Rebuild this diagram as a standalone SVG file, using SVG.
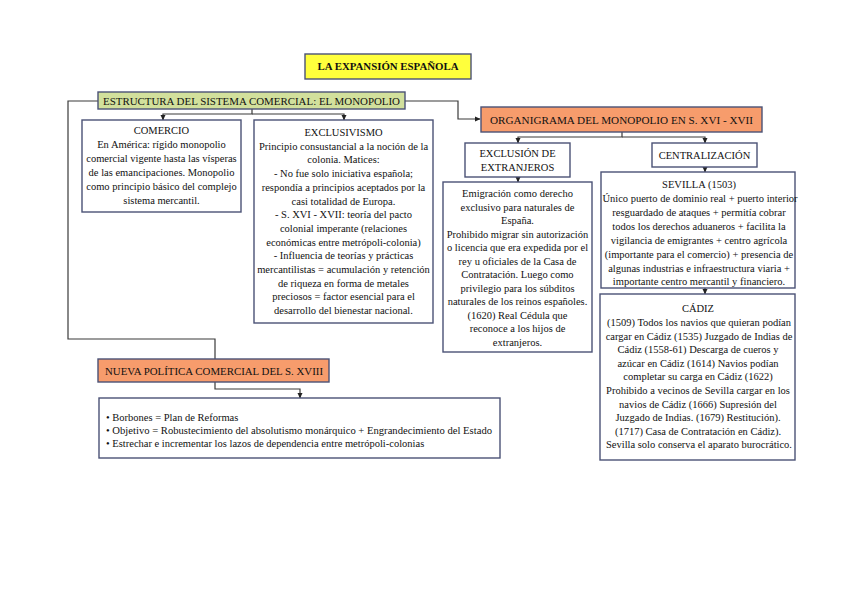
<svg xmlns="http://www.w3.org/2000/svg" width="848" height="599" viewBox="0 0 848 599">
<style>
text{font-family:"Liberation Serif","Times New Roman",serif;font-size:10.5px;fill:#111}
.c{text-anchor:middle}
.box{fill:#fff;stroke:#4a5276;stroke-width:1.4}
.yel{fill:#ffff3c;stroke:#4a5276;stroke-width:1.4}
.grn{fill:#d2e09c;stroke:#4a5276;stroke-width:1.4}
.sal{fill:#f79c6c;stroke:#4a5276;stroke-width:1.4}
.ln{fill:none;stroke:#3a3a3a;stroke-width:1.2}
.b{font-weight:bold}
</style>
<defs>
<marker id="ar" markerWidth="6" markerHeight="6" refX="5" refY="3" orient="auto" markerUnits="userSpaceOnUse">
<path d="M0,0.5 L5.5,3 L0,5.5 Z" fill="#222"/>
</marker>
</defs>
<rect width="848" height="599" fill="#fff"/>

<g id="connectors">
<path class="ln" d="M98,101 H68 V339 H215 V359"/>
<path class="ln" d="M405,101 H458 V119 H480" marker-end="url(#ar)"/>
<path class="ln" d="M252,109 V114 H163 V120" marker-end="url(#ar)"/>
<path class="ln" d="M252,114 H344 V120" marker-end="url(#ar)"/>
<path class="ln" d="M622,132 V137 H518 V143" marker-end="url(#ar)"/>
<path class="ln" d="M622,137 H705 V143" marker-end="url(#ar)"/>
<path class="ln" d="M518,177 V182" marker-end="url(#ar)"/>
<path class="ln" d="M705,167 V172" marker-end="url(#ar)"/>
<path class="ln" d="M705,288 V294" marker-end="url(#ar)"/>
<path class="ln" d="M215,382 V389 H300 V398" marker-end="url(#ar)"/>
</g>

<g id="titulo">
<rect class="yel" x="305" y="54" width="166" height="25"/>
<text class="c b" x="388" y="70" textLength="141" lengthAdjust="spacingAndGlyphs">LA EXPANSIÓN ESPAÑOLA</text>
</g>

<g id="estructura">
<rect class="grn" x="98" y="92" width="307" height="17"/>
<text class="c" x="251.5" y="104.5" textLength="297" lengthAdjust="spacingAndGlyphs">ESTRUCTURA DEL SISTEMA COMERCIAL: EL MONOPOLIO</text>
</g>

<g id="comercio">
<rect class="box" x="82" y="120" width="159" height="92"/>
<text class="c" x="161.5" y="134">COMERCIO</text>
<text class="c" x="161.5" y="148">En América: rígido monopolio</text>
<text class="c" x="161.5" y="162">comercial vigente hasta las vísperas</text>
<text class="c" x="161.5" y="176">de las emancipaciones. Monopolio</text>
<text class="c" x="161.5" y="190">como principio básico del complejo</text>
<text class="c" x="161.5" y="204">sistema mercantil.</text>
</g>

<g id="exclusivismo">
<rect class="box" x="254" y="120" width="179" height="203"/>
<text class="c" x="343.5" y="136">EXCLUSIVISMO</text>
<text class="c" x="343.5" y="149.7">Principio consustancial a la noción de la</text>
<text class="c" x="343.5" y="163.4">colonia. Matices:</text>
<text class="c" x="343.5" y="177.1">- No fue solo iniciativa española;</text>
<text class="c" x="343.5" y="190.8">respondía a principios aceptados por la</text>
<text class="c" x="343.5" y="204.5">casi totalidad de Europa.</text>
<text class="c" x="343.5" y="218.2">- S. XVI - XVII: teoría del pacto</text>
<text class="c" x="343.5" y="231.9">colonial imperante (relaciones</text>
<text class="c" x="343.5" y="245.6">económicas entre metrópoli-colonia)</text>
<text class="c" x="343.5" y="259.3">- Influencia de teorías y prácticas</text>
<text class="c" x="343.5" y="273">mercantilistas = acumulación y retención</text>
<text class="c" x="343.5" y="286.7">de riqueza en forma de metales</text>
<text class="c" x="343.5" y="300.4">preciosos = factor esencial para el</text>
<text class="c" x="343.5" y="314.1">desarrollo del bienestar nacional.</text>
</g>

<g id="organigrama">
<rect class="sal" x="481" y="107" width="281" height="25"/>
<text class="c" x="621.5" y="123.5" textLength="263" lengthAdjust="spacingAndGlyphs">ORGANIGRAMA DEL MONOPOLIO EN S. XVI - XVII</text>
</g>

<g id="exclusion">
<rect class="box" x="465" y="143" width="105" height="34"/>
<text class="c" x="517.5" y="157">EXCLUSIÓN DE</text>
<text class="c" x="517.5" y="171">EXTRANJEROS</text>
</g>

<g id="centralizacion">
<rect class="box" x="652" y="143" width="105" height="24"/>
<text class="c" x="704.5" y="158.5">CENTRALIZACIÓN</text>
</g>

<g id="emigracion">
<rect class="box" x="443" y="182" width="149" height="170"/>
<text class="c" x="517.5" y="197">Emigración como derecho</text>
<text class="c" x="517.5" y="210.5">exclusivo para naturales de</text>
<text class="c" x="517.5" y="224">España.</text>
<text class="c" x="517.5" y="237.5">Prohibido migrar sin autorización</text>
<text class="c" x="517.5" y="251">o licencia que era expedida por el</text>
<text class="c" x="517.5" y="264.5">rey u oficiales de la Casa de</text>
<text class="c" x="517.5" y="278">Contratación. Luego como</text>
<text class="c" x="517.5" y="291.5">privilegio para los súbditos</text>
<text class="c" x="517.5" y="305">naturales de los reinos españoles.</text>
<text class="c" x="517.5" y="318.5">(1620) Real Cédula que</text>
<text class="c" x="517.5" y="332">reconoce a los hijos de</text>
<text class="c" x="517.5" y="345.5">extranjeros.</text>
</g>

<g id="sevilla">
<rect class="box" x="601" y="172" width="194" height="116"/>
<text class="c" x="699" y="188">SEVILLA (1503)</text>
<text class="c" x="700" y="202">Único puerto de dominio real + puerto interior</text>
<text class="c" x="699" y="216">resguardado de ataques + permitía cobrar</text>
<text class="c" x="699" y="229.5">todos los derechos aduaneros + facilita la</text>
<text class="c" x="699" y="243.5">vigilancia de emigrantes + centro agrícola</text>
<text class="c" x="699" y="257.5">(importante para el comercio) + presencia de</text>
<text class="c" x="699" y="271.5">algunas industrias e infraestructura viaria +</text>
<text class="c" x="699" y="285">importante centro mercantil y financiero.</text>
</g>

<g id="cadiz">
<rect class="box" x="600" y="294" width="195" height="166"/>
<text class="c" x="698" y="312">CÁDIZ</text>
<text class="c" x="699" y="326">(1509) Todos los navios que quieran podían</text>
<text class="c" x="699" y="339.5">cargar en Cádiz (1535) Juzgado de Indias de</text>
<text class="c" x="698" y="353">Cádiz (1558-61) Descarga de cueros y</text>
<text class="c" x="698" y="366.5">azúcar en Cádiz (1614) Navios podían</text>
<text class="c" x="698" y="380">completar su carga en Cádiz (1622)</text>
<text class="c" x="698" y="394">Prohibido a vecinos de Sevilla cargar en los</text>
<text class="c" x="698" y="407.5">navios de Cádiz (1666) Supresión del</text>
<text class="c" x="698" y="421">Juzgado de Indias. (1679) Restitución).</text>
<text class="c" x="698" y="434.5">(1717) Casa de Contratación en Cádiz).</text>
<text class="c" x="699" y="448">Sevilla solo conserva el aparato burocrático.</text>
</g>

<g id="nueva-politica">
<rect class="sal" x="98" y="359" width="231" height="23"/>
<text x="105" y="374.5" textLength="218" lengthAdjust="spacingAndGlyphs">NUEVA POLÍTICA COMERCIAL DEL S. XVIII</text>
</g>

<g id="reformas">
<rect class="box" x="99" y="398" width="401" height="60"/>
<text x="106" y="420.5">• Borbones = Plan de Reformas</text>
<text x="106" y="433.5" textLength="386" lengthAdjust="spacingAndGlyphs">• Objetivo = Robustecimiento del absolutismo monárquico + Engrandecimiento del Estado</text>
<text x="106" y="446.5">• Estrechar e incrementar los lazos de dependencia entre metrópoli-colonias</text>
</g>
</svg>
